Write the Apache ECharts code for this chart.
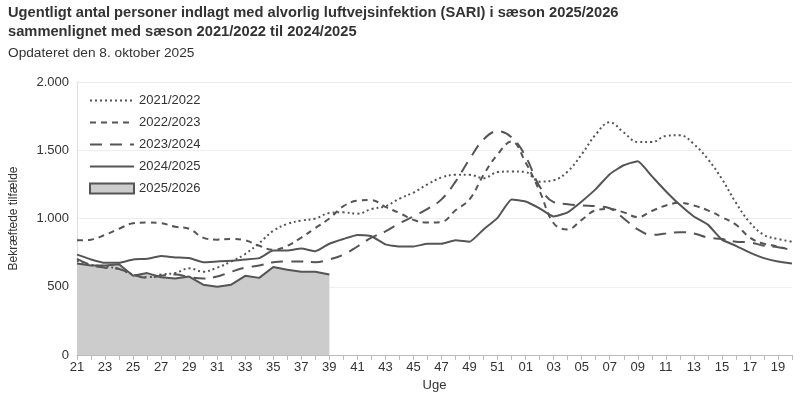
<!DOCTYPE html>
<html><head><meta charset="utf-8">
<script src="https://cdn.jsdelivr.net/npm/echarts@6/dist/echarts.min.js"></script>
<style>html,body{margin:0;padding:0;background:#fff}#c{width:800px;height:400px}</style>
</head><body><div id="c"></div>
<script>
const weeks = ['21','22','23','24','25','26','27','28','29','30','31','32','33','34','35','36','37','38','39','40','41','42','43','44','45','46','47','48','49','50','51','52','01','02','03','04','05','06','07','08','09','10','11','12','13','14','15','16','17','18','19','20'];
const s2122 = [690,660,650,630,590,570,590,600,635,610,640,685,740,820,910,960,985,1000,1040,1045,1035,1070,1090,1145,1190,1250,1300,1320,1320,1295,1340,1345,1340,1270,1280,1345,1470,1615,1705,1630,1560,1560,1605,1610,1545,1435,1290,1115,970,880,850,830];
const s2223 = [840,845,880,925,965,970,965,940,925,860,845,850,840,800,770,800,860,930,1000,1090,1130,1135,1085,1040,990,970,975,1060,1140,1320,1470,1565,1410,1200,965,920,990,1060,1070,1045,1010,1055,1095,1115,1095,1060,1010,955,860,815,795,765];
const s2324 = [705,660,640,630,590,565,580,590,570,560,575,610,640,655,680,685,685,680,700,735,795,860,905,965,1015,1070,1140,1270,1435,1580,1640,1595,1455,1235,1120,1105,1095,1090,1075,1000,920,880,890,900,890,860,850,830,825,800,790,770];
const s2425 = [735,700,675,675,700,705,725,715,710,680,685,690,700,710,765,765,780,760,815,850,880,870,810,795,795,815,815,840,830,920,1005,1140,1125,1075,1015,1045,1125,1215,1325,1390,1420,1310,1200,1100,1015,955,845,800,750,710,685,670];
const s2526 = [670,655,655,665,580,600,570,560,575,515,500,515,580,565,645,625,610,610,590];
const seasons = ['2021/2022','2022/2023','2023/2024','2024/2025','2025/2026'];
const yTicks = [0,500,1000,1500,2000];

const C = '#555555';
const font = 'Liberation Sans, Arial, sans-serif';
const chart = echarts.init(document.getElementById('c'), null, {renderer:'canvas'});
function lineSeries(name, data, dash, smooth){
  return {name, type:'line', data, smooth, showSymbol:false, symbol:'none',
    lineStyle:{color:C, width:2, type:dash}, itemStyle:{color:C}, z:3};
}
const hideSym = {opacity:0};
chart.setOption({
  animation:false,
  textStyle:{fontFamily:font},
  title:{
    text:'Ugentligt antal personer indlagt med alvorlig luftvejsinfektion (SARI) i sæson 2025/2026\nsammenlignet med sæson 2021/2022 til 2024/2025',
    subtext:'Opdateret den 8. oktober 2025',
    left:3, top:-2, itemGap:5,
    textStyle:{fontSize:14.7, fontWeight:'bold', color:'#333', lineHeight:19, fontFamily:font},
    subtextStyle:{fontSize:13.7, color:'#333', fontFamily:font}
  },
  legend:{
    orient:'vertical', left:84, top:89, itemWidth:44, itemHeight:10, itemGap:9,
    textStyle:{fontSize:13, color:'#333', fontFamily:font},
    data:[
      {name:seasons[0], itemStyle:hideSym},{name:seasons[1], itemStyle:hideSym},
      {name:seasons[2], itemStyle:hideSym},{name:seasons[3], itemStyle:hideSym},
      {name:seasons[4], icon:'rect', itemStyle:{color:'#cccccc', borderColor:C, borderWidth:2}}
    ]
  },
  grid:{left:76, right:8, top:82, bottom:45, containLabel:false},
  xAxis:{
    type:'category', data:weeks, boundaryGap:false,
    name:'Uge', nameLocation:'middle', nameGap:24,
    nameTextStyle:{fontSize:13, color:'#333', fontFamily:font},
    axisLine:{lineStyle:{color:'#bbb'}},
    axisTick:{interval:0, length:5, lineStyle:{color:'#bbb'}},
    axisLabel:{interval:1, fontSize:13, color:'#333', margin:6, fontFamily:font}
  },
  yAxis:{
    type:'value', min:yTicks[0], max:yTicks[yTicks.length-1], interval:500,
    name:'Bekræftede tilfælde', nameLocation:'middle', nameGap:57, nameRotate:90,
    nameTextStyle:{fontSize:12, color:'#333', fontFamily:font},
    axisLine:{show:true, lineStyle:{color:'#ddd'}},
    axisTick:{show:false},
    splitLine:{lineStyle:{color:'#eee'}},
    axisLabel:{fontSize:13, color:'#333', margin:8, fontFamily:font,
      formatter:v=>v.toLocaleString('de-DE')}
  },
  series:[
    {name:seasons[4], type:'line', data:s2526, showSymbol:false, symbol:'none', z:1,
      lineStyle:{color:C, width:2}, itemStyle:{color:'#cccccc', borderColor:C},
      areaStyle:{color:'#cccccc', opacity:1}},
    lineSeries(seasons[0], s2122, [2,3], 0.4),
    lineSeries(seasons[1], s2223, [6,5], 0.4),
    lineSeries(seasons[2], s2324, [12,8], 0.4),
    lineSeries(seasons[3], s2425, 'solid', 0.15)
  ]
});
</script></body></html>
